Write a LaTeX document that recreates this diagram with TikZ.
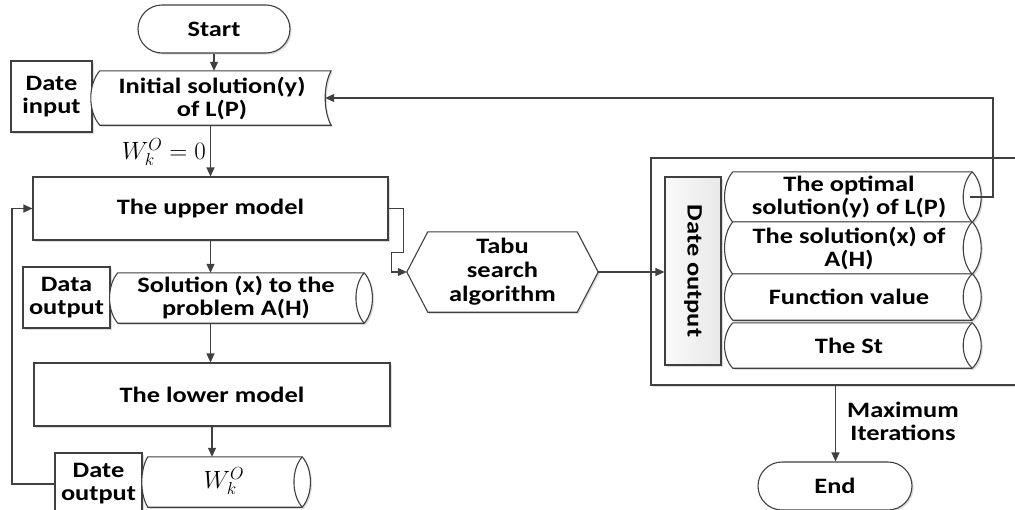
\RequirePackage{fix-cm}
\documentclass[tikz,border=0pt]{standalone}
\usepackage{fontspec}
\newfontfamily\labelfont{Carlito}[FakeStretch=1.2]
\usetikzlibrary{shapes.misc, shadows, arrows.meta, calc}

\newcommand\lbl{\labelfont\bfseries\fontsize{22}{23}\selectfont}
\newcommand\mathlbl{\fontsize{25}{28}\selectfont}

\tikzset{
  ln/.style={draw=black!75, line width=1.1pt},
  arr/.style={ln, -{Triangle[length=9pt,width=8pt]}},
  txt/.style={font=\lbl, align=center, text=black},
  shade/.style={drop shadow={shadow xshift=1.6pt, shadow yshift=-1.6pt,
      fill=black!35, opacity=0.4}},
  box/.style={txt, rectangle, ln, fill=white, shade, inner sep=0pt},
  term/.style={txt, rounded rectangle, ln, fill=white, shade, inner sep=0pt},
  bare/.style={txt, rectangle, inner sep=0pt},
}

% stored data: node, inner bulge on the right, outer bulge on the left
\newcommand\storeddata[3]{%
  \path[ln, fill=white, shade] (#1.north west) -- (#1.north east)
    .. controls ($(#1.north east)!.25!(#1.south east)+(-#2,0)$)
           and ($(#1.north east)!.75!(#1.south east)+(-#2,0)$) .. (#1.south east)
    -- (#1.south west)
    .. controls ($(#1.north west)!.75!(#1.south west)+(-#3,0)$)
           and ($(#1.north west)!.25!(#1.south west)+(-#3,0)$) .. (#1.north west)
    -- cycle;}

% horizontal drum: node, bulge of the lens on the right, bulge on the left
\newcommand\drum[3]{%
  \path[ln, fill=white, shade] (#1.north west) -- (#1.north east)
    .. controls ($(#1.north east)!.25!(#1.south east)+(#2,0)$)
           and ($(#1.north east)!.75!(#1.south east)+(#2,0)$) .. (#1.south east)
    -- (#1.south west)
    .. controls ($(#1.north west)!.75!(#1.south west)+(-#3,0)$)
           and ($(#1.north west)!.25!(#1.south west)+(-#3,0)$) .. (#1.north west)
    -- cycle;
  \draw[ln] (#1.north east)
    .. controls ($(#1.north east)!.25!(#1.south east)+(-#2,0)$)
           and ($(#1.north east)!.75!(#1.south east)+(-#2,0)$) .. (#1.south east);}

\begin{document}
\begin{tikzpicture}[x=1pt, y=-1pt]
\useasboundingbox (0,0) rectangle (1015,509);
\clip (0,0) rectangle (1015,509);

% ---------- left column ----------
\node[term, minimum width=152pt, minimum height=48pt] (start) at (214,29) {Start};

\node[box, minimum width=81pt, minimum height=71pt] (din) at (51.5,96.5) {Date\\input};
\node[bare, minimum width=231pt, minimum height=54pt] (init) at (215.5,98) {};
\storeddata{init}{8}{12}
\node[txt] at (212,98) {Initial solution(y)\\of L(P)};

\node[box, minimum width=355pt, minimum height=63pt] (upper) at (210.5,208.5) {The upper model};

\node[box, minimum width=87pt, minimum height=61pt] (dout1) at (66.5,297.5) {Data\\output};
\node[bare, minimum width=246pt, minimum height=50pt] (sol) at (241,298) {};
\drum{sol}{11}{11}
\node[txt] at (236,298) {Solution (x) to the\\problem A(H)};

\node[box, minimum width=356pt, minimum height=63pt] (lower) at (212,394.5) {The lower model};

\node[box, minimum width=87pt, minimum height=62pt] (dout2) at (98.5,484) {Date\\output};
\node[bare, minimum width=154pt, minimum height=50pt] (wcyl) at (225,482) {};
\drum{wcyl}{11}{8}
\node[text=black] at (224,481) {\mathlbl$W_k^O$};

% ---------- middle ----------
\node[bare, minimum width=191pt, minimum height=80pt] (tabu) at (502.5,272) {};
\path[ln, fill=white, shade] (tabu.west) -- ([xshift=21pt]tabu.north west)
  -- ([xshift=-21pt]tabu.north east) -- (tabu.east)
  -- ([xshift=-21pt]tabu.south east) -- ([xshift=21pt]tabu.south west) -- cycle;
\node[txt, font=\labelfont\bfseries\fontsize{22}{24}\selectfont] at (502.5,272)
  {Tabu\\search\\algorithm};

% ---------- right group ----------
\node[box, minimum width=369pt, minimum height=227pt] (outer) at (835.5,271.5) {};
\node[txt, rectangle, ln, shade, inner sep=0pt, left color=black!2, right color=black!9,
      minimum width=56pt, minimum height=188pt] (panel) at (693,271) {};
\node[txt, rotate=-90] at (panel.center) {Date output};

\node[bare, minimum width=239pt, minimum height=50pt] (opt) at (852.5,197) {};
\node[bare, minimum width=239pt, minimum height=52pt] (solx) at (852.5,248) {};
\node[bare, minimum width=239pt, minimum height=46pt] (fval) at (852.5,297) {};
\node[bare, minimum width=239pt, minimum height=45pt] (st) at (852.5,345.5) {};
\drum{opt}{12}{11}
\drum{solx}{12}{11}
\drum{fval}{12}{11}
\drum{st}{12}{11}
\node[txt] at (849,197) {The optimal\\solution(y) of L(P)};
\node[txt] at (849,248) {The solution(x) of\\A(H)};
\node[txt] at (849,297) {Function value};
\node[txt] at (849,345.5) {The St};

\node[term, minimum width=154pt, minimum height=48pt] (end) at (835,486) {End};

% ---------- connectors ----------
\coordinate (fbL) at (12,208.5);
\coordinate (fbR) at (993,98);

\draw[arr] (start.south) -- (start.south |- init.north);
\draw[arr] (init.south -| upper.north) -- (upper.north);
\node[anchor=east, text=black, inner sep=0pt] at (206,152) {\mathlbl$W_k^O = 0$};
\draw[arr] (upper.south) -- (upper.south |- sol.north);
\draw[arr] (upper.south |- sol.south) -- (upper.south |- lower.north);
\draw[arr] (lower.south) -- (lower.south |- wcyl.north);
\draw[arr] (dout2.west) -| (fbL) -- (upper.west);
\draw[arr] (upper.east) -- ++(15,0) -- ++(0,44) -- ++(-12,0) |- (tabu.west);
\draw[arr] (tabu.east) -- (tabu.east -| panel.west);
\draw[arr] ($(opt.east)+(-2,0)$) -| (fbR) -- ($(init.east)+(-6,0)$);
\draw[arr] (outer.south) -- (outer.south |- end.north);
\node[txt] at (903,421) {Maximum\\Iterations};
\end{tikzpicture}
\end{document}
